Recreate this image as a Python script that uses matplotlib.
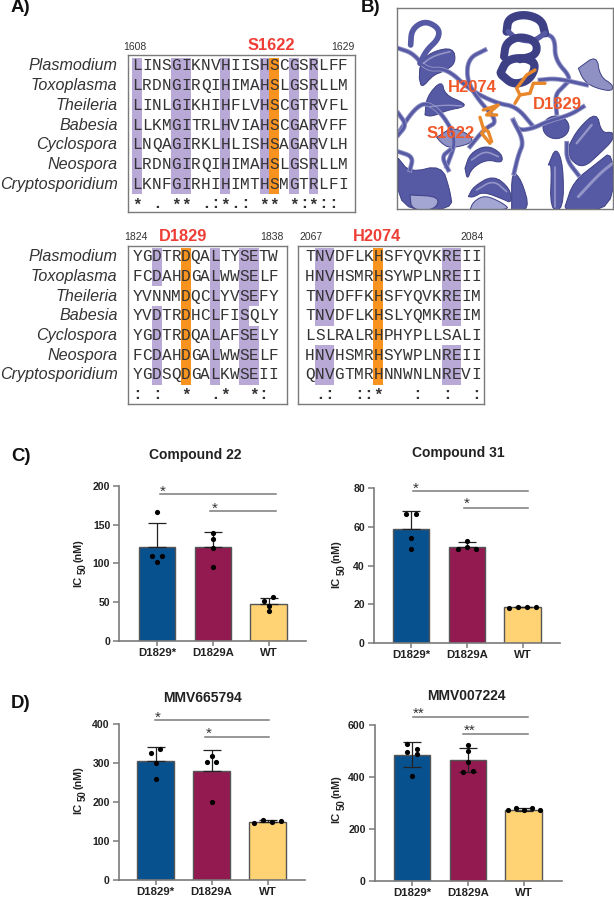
import numpy as np
import matplotlib
matplotlib.use('Agg')
import matplotlib.pyplot as plt
from matplotlib.patches import Rectangle, Polygon, Ellipse

plt.rcParams['font.family'] = ['Liberation Sans', 'DejaVu Sans']

W, H = 614, 899
fig = plt.figure(figsize=(W / 100, H / 100), dpi=100)

GRAY = '#7a7a7a'
TXT = '#222222'
PURPLE = '#b9a9d6'
ORANGE = '#f7931e'
RED = '#ef3e36'


def px_axes(x0, y0, x1, y1):
    # axes from picture pixels, y going down
    return fig.add_axes([x0 / W, 1 - y1 / H, (x1 - x0) / W, (y1 - y0) / H])


def px_text(x, y, s, **kw):
    kw.setdefault('ha', 'center')
    kw.setdefault('va', 'center')
    kw.setdefault('color', TXT)
    fig.text(x / W, 1 - y / H, s, **kw)


# ---- alignments ----
species = ['Plasmodium', 'Toxoplasma', 'Theileria', 'Babesia', 'Cyclospora', 'Neospora', 'Cryptosporidium']

seq_s1622 = ['LINSGIKNVHIISHSCGSRLFF', 'LRDNGIRQIHIMAHSLGSRLLM', 'LINLGIKHIHFLVHSCGTRVFL',
             'LLKMGITRLHVIAHSCGARVFF', 'LNQAGIRKLHLISHSAGARVLH', 'LRDNGIRQIHIMAHSLGSRLLM',
             'LKNFGIRHIHIMTHSMGTRLFI']
sym_s1622 = '* . ** .:*.: ** *:*:: '
shade_s1622 = {0: range(7), 4: range(7), 5: range(7), 9: range(7), 13: range(7), 16: range(7), 18: range(7)}

seq_d1829 = ['YGDTRDQALTYSETW', 'FCDAHDGALWWSELF', 'YVNNMDQCLYVSEFY', 'YVDTRDHCLFISQLY',
             'YGDTRDQALAFSELY', 'FCDAHDGALWWSELF', 'YGDSQDGALKWSEII']
sym_d1829 = ': :  *  .*  *:  '
shade_d1829 = {2: [0, 1, 3, 4, 5, 6], 8: range(7), 11: range(7), 12: [0, 1, 2, 4, 5, 6]}

seq_h2074 = ['TNVDFLKHSFYQVKREII', 'HNVHSMRHSYWPLNREII', 'TNVDFFKHSFYQVKREIM', 'TNVDFLKHSLYQMKREIM',
             'LSLRALRHPHYPLLSALI', 'HNVHSMRHSYWPLNREII', 'QNVGTMRHNNWNLNREVI']
sym_h2074 = ' .:  ::*   :  :  ::'[:18]
shade_h2074 = {1: [0, 1, 2, 3, 5, 6], 2: [0, 1, 2, 3, 5, 6], 14: [0, 1, 2, 3, 5, 6], 15: [0, 1, 2, 3, 5, 6]}


def alignment(box, col0, dcol, row0, seqs, symbols, shade, hot):
    x0, y0, x1, y1 = box
    drow = 19.7
    ax = px_axes(x0, y0, x1, y1)
    ax.set_xlim((x0 - col0) / dcol, (x1 - col0) / dcol)
    ax.set_ylim((y1 - row0) / drow, (y0 - row0) / drow)
    ax.set_xticks([])
    ax.set_yticks([])
    for s in ax.spines.values():
        s.set_color(GRAY)
        s.set_linewidth(1.0)
    for col, rows in shade.items():
        for r in rows:
            # rows touch so neighbours merge into one block
            top = -0.42 if r == 0 else r - 0.5
            ax.add_patch(Rectangle((col - 0.5, top), 1, r + 0.5 - top, fc=PURPLE, ec='none'))
    ax.add_patch(Rectangle((hot - 0.5, -0.42), 1, 6.92, fc=ORANGE, ec='none'))
    for r, seq in enumerate(seqs):
        for c, ch in enumerate(seq):
            ax.text(c, r, ch, family='Liberation Mono', fontsize=11.6, color='#333333',
                    ha='center', va='center')
    for c, ch in enumerate(symbols):
        if ch != ' ':
            ax.text(c, 6.98 if ch != '*' else 7.05, ch, family='Liberation Mono', fontsize=11.6, weight='bold',
                    color='#333333', ha='center', va='center')


alignment((127.5, 54.5, 355, 212), 137, 9.8, 66, seq_s1622, sym_s1622, shade_s1622, 14)
alignment((127.5, 245.7, 286.7, 404), 137.3, 9.71, 256.7, seq_d1829, sym_d1829, shade_d1829, 5)
alignment((298.3, 245.7, 484.3, 404), 310, 9.76, 256.7, seq_h2074, sym_h2074, shade_h2074, 7)

for i, name in enumerate(species):
    px_text(117.5, 66 + i * 19.7, name, ha='right', style='italic', fontsize=11.6, color='#333333')
    px_text(117.5, 256.7 + i * 19.7, name, ha='right', style='italic', fontsize=11.6, color='#333333')

for x, y, s in [(135, 47, '1608'), (342.7, 47, '1629'), (136, 237, '1824'), (272, 237, '1838'),
                (311, 237, '2067'), (472, 237, '2084')]:
    px_text(x, y, s, fontsize=7.5, color='#333333')
for x, y, s in [(271, 46, 'S1622'), (183, 236.7, 'D1829'), (376.7, 236.7, 'H2074')]:
    px_text(x, y, s, fontsize=11.8, weight='bold', color=RED)

for x, y, s in [(11, 8, 'A)'), (361, 8, 'B)'), (11, 456.7, 'C)'), (11, 704, 'D)')]:
    px_text(x, y, s, ha='left', fontsize=13.4, weight='bold', color='#111111')


# ---- panel B: cartoon of the protein ----
RIB = '#5659a3'
DARK = '#3d4085'
LITE = '#a3a5d2'
MID = '#8f91c4'
STICK = '#e8882a'

thin_loops = [
    [(85, 145), (130, 160), (170, 210), (230, 205), (300, 270), (380, 310), (440, 320), (490, 380)],
    [(85, 400), (130, 330), (170, 305), (220, 345), (260, 420), (230, 500)],
    [(345, 150), (295, 175), (290, 240), (325, 300), (385, 365), (345, 385), (300, 440)],
    [(525, 100), (555, 115), (555, 180), (605, 235), (580, 260), (555, 285), (560, 340)],
    [(510, 240), (560, 235), (650, 255)],
    [(430, 360), (445, 392), (490, 385), (530, 365), (600, 345), (640, 320)],
    [(430, 362), (462, 425), (445, 465), (432, 520)],
    [(85, 455), (130, 470), (120, 510)],
    [(590, 430), (590, 480), (625, 525)],
    [(85, 340), (110, 375), (85, 405)],
    [(240, 450), (215, 470), (235, 510)],
]
solid_shapes = [
    # left helix
    ([(148, 235), (150, 190), (185, 155), (250, 142), (258, 190), (220, 215), (190, 225), (155, 265)], RIB),
    ([(165, 345), (170, 290), (215, 240), (225, 285), (285, 310), (280, 322), (235, 330), (185, 350)], RIB),
    ([(200, 412), (250, 380), (310, 412), (300, 432), (240, 445), (215, 430)], MID),
    # lower left block
    ([(85, 475), (120, 518), (215, 495), (240, 570), (248, 630), (85, 630)], RIB),
    ([(120, 585), (210, 590), (195, 630), (125, 630)], LITE),
    # lower centre helix
    ([(285, 505), (300, 460), (350, 435), (395, 460), (398, 490), (350, 478), (305, 505), (292, 540)], RIB),
    ([(295, 590), (310, 560), (370, 525), (420, 565), (425, 610), (400, 598), (340, 575), (310, 592)], RIB),
    ([(300, 630), (310, 605), (345, 585), (400, 610), (420, 630)], LITE),
    # strands
    ([(425, 630), (425, 510), (455, 540), (480, 630)], RIB),
    ([(535, 495), (558, 440), (580, 495), (580, 630), (540, 630), (545, 495)], RIB),
    # right helix
    ([(595, 440), (625, 385), (680, 335), (695, 400), (730, 395), (730, 420), (690, 460), (640, 505), (600, 480)], RIB),
    ([(585, 620), (610, 545), (680, 490), (730, 450), (730, 630), (590, 630)], RIB),
    ([(625, 205), (680, 165), (690, 230), (730, 255), (725, 275), (670, 262), (640, 240)], MID),
]
coil_strokes = [
    # left helix, top coil
    ([(122, 135), (125, 88), (165, 62), (208, 85), (205, 118), (170, 150), (150, 190)], 17, RIB),
    # central helix, three turns
    ([(410, 95), (415, 55), (465, 42), (515, 60), (525, 100)], 25, DARK),
    ([(525, 100), (490, 125), (440, 118), (415, 95)], 16, RIB),
    ([(402, 170), (408, 128), (450, 108), (500, 125), (500, 165), (450, 178)], 24, DARK),
    ([(392, 218), (410, 180), (460, 172), (500, 190), (480, 240), (430, 255), (395, 225)], 25, DARK),
]
highlights = [
    ([(160, 190), (190, 168), (240, 155)], 5),
    ([(180, 320), (230, 315), (275, 318)], 4),
    ([(305, 480), (345, 452), (385, 470)], 5),
    ([(320, 570), (370, 540), (410, 575)], 5),
    ([(620, 430), (665, 375)], 7),
    ([(625, 590), (690, 520), (728, 490)], 9),
    ([(555, 500), (555, 620)], 5),
]
sticks = [
    [(435, 310), (450, 285), (480, 280), (490, 250), (525, 250)],
    [(450, 285), (440, 265), (470, 225), (495, 210)],
    [(340, 330), (385, 315), (350, 345), (380, 345)],
    [(330, 352), (340, 385), (355, 395), (365, 425)],
    [(345, 385), (335, 400), (360, 430)],
]


def smooth(pts, n=3, closed=False):
    # Chaikin corner cutting, keeps the ribbons round
    p = np.array(pts, float)
    if closed:
        p = np.vstack([p, p[0]])
    for _ in range(n):
        q = 0.75 * p[:-1] + 0.25 * p[1:]
        r = 0.25 * p[:-1] + 0.75 * p[1:]
        p = np.vstack([p[0], np.column_stack([q, r]).reshape(-1, 2), p[-1]])
    return p


axb = px_axes(397.3, 8.3, 613, 209.3)
axb.set_xlim(82, 729)
axb.set_ylim(628, 25)
axb.set_xticks([])
axb.set_yticks([])
for s in axb.spines.values():
    s.set_color(GRAY)
    s.set_linewidth(1.0)
    s.set_zorder(10)
for pts in thin_loops:
    p = smooth(pts)
    axb.plot(p[:, 0], p[:, 1], color=MID, lw=3.4)
    axb.plot(p[:, 0], p[:, 1], color=RIB, lw=2.0)
for pts, col in solid_shapes:
    axb.add_patch(Polygon(smooth(pts, 2, closed=True), closed=True, fc=col, ec=DARK, lw=0.7))
axb.add_patch(Ellipse((558, 382), 78, 68, fc=RIB, ec=DARK, lw=0.7))
for pts, lw, col in coil_strokes:
    p = smooth(pts)
    axb.plot(p[:, 0], p[:, 1], color=col, lw=lw / 3 * 0.72, solid_capstyle='round')
for pts, lw in highlights:
    p = smooth(pts)
    axb.plot(p[:, 0], p[:, 1], color=LITE, lw=lw / 3 * 0.72, alpha=0.8, solid_capstyle='round')
for pts in sticks:
    p = np.array(pts)
    axb.plot(p[:, 0], p[:, 1], color=STICK, lw=2.4, solid_capstyle='round', solid_joinstyle='round')
for x, y, s in [(307, 264, 'H2074'), (563, 315, 'D1829'), (242, 400, 'S1622')]:
    axb.text(x, y, s, fontsize=12, weight='bold', color='#f0582a', ha='center', va='center')


# ---- IC50 bars ----
strains = ['D1829*', 'D1829A', 'WT']
bar_colors = ['#08518f', '#931a50', '#ffd373']

c22_means = [121, 120.5, 47.5]
c22_err_low = [0, 0, 0]
c22_err_up = [31, 19.5, 8]
c22_points = [[166.8, 110, 109.5, 101.3], [138.8, 131, 119.4, 94.8], [56, 51.7, 44.8, 38.8]]
c22_offs = [[0, -0.084, 0.084, 0], [0, 0, 0, 0], [0.084, -0.084, 0, 0]]

c31_means = [59, 49.7, 18.5]
c31_err_low = [0, 0, 0]
c31_err_up = [9.2, 2.2, 0.3]
c31_points = [[66.5, 66.5, 54.1, 48.5], [52.6, 49.7, 48.3, 48.3], [18.2, 18.7, 18.5, 18.5]]
c31_offs = [[-0.084, 0.084, 0, 0], [0, 0, -0.16, 0.16], [-0.245, -0.084, 0.084, 0.245]]

m665_means = [304.7, 279.8, 149.5]
m665_err_low = [0, 0, 0]
m665_err_up = [36, 55, 3]
m665_points = [[336.5, 326, 301, 258.4], [317.6, 303, 302, 199], [146.8, 152.8, 147.6, 152]]
m665_offs = [[0.084, -0.08, 0, 0], [0, -0.08, 0.084, 0], [-0.245, -0.084, 0.084, 0.245]]

m007_means = [484, 464.8, 274]
m007_err_low = [46, 47, 5]
m007_err_up = [50, 47, 5]
m007_points = [[526.6, 510, 497, 490.6, 403], [525, 499.6, 457, 425, 418], [274, 280.7, 274, 279.4, 271.7]]
m007_offs = [[-0.084, 0.084, -0.084, 0.084, 0], [0, 0, 0, 0.084, -0.084], [-0.29, -0.14, 0, 0.15, 0.29]]


def bar_panel(spine_x, y_zero, y_top, x_end, first_c, ymax, yticks, means, err_low, err_up, points, offs,
              sig1, sig2, star, star1, star2):
    dc = 55.9
    ax = px_axes(spine_x, y_top, x_end, y_zero)
    ax.patch.set_alpha(0)
    ax.set_xlim((spine_x - first_c) / dc, (x_end - first_c) / dc)
    ax.set_ylim(0, ymax)
    ax.bar(range(3), means, width=0.657, color=bar_colors, edgecolor='#555555', linewidth=1.0, zorder=2)
    ax.errorbar(range(3), means, yerr=[err_low, err_up], fmt='none', ecolor='#222222', elinewidth=0.9,
                capsize=6.5, capthick=0.9, zorder=3)
    for i in range(3):
        ax.scatter(np.array(offs[i]) + i, points[i], s=14, color='black', zorder=4, clip_on=False, linewidths=0)
    for (xa, xb, yy) in [sig1, sig2]:
        ax.plot([xa, xb], [yy, yy], color=GRAY, lw=1.1, clip_on=False, zorder=1)
    for (xs, ys) in [star1, star2]:
        ax.text(xs, ys, star, fontsize=11, color='#333333', ha='center', va='center', clip_on=False)
    ax.set_xticks(range(3))
    ax.set_xticklabels(strains, fontsize=8.2, weight='bold', color=TXT)
    ax.set_yticks(yticks)
    ax.set_yticklabels([str(t) for t in yticks], fontsize=7.6, weight='bold', color=TXT)
    ax.tick_params(axis='y', color=GRAY, width=1.1, length=4, pad=2.5)
    ax.tick_params(axis='x', color=GRAY, width=1.1, length=3.5, pad=1.5)
    for side in ['top', 'right']:
        ax.spines[side].set_visible(False)
    for side in ['left', 'bottom']:
        ax.spines[side].set_color(GRAY)
        ax.spines[side].set_linewidth(1.2)
    return ax


bar_panel(119.3, 640.7, 486, 305.7, 157, 200, [0, 50, 100, 150, 200], c22_means, c22_err_low, c22_err_up,
          c22_points, c22_offs, (0.054, 2.12, 189.2), (0.955, 2.12, 167.7), '*', (0.1, 192), (1.04, 171))
bar_panel(374, 643.3, 487.7, 560, 411, 80, [0, 20, 40, 60, 80], c31_means, c31_err_low, c31_err_up,
          c31_points, c31_offs, (0.04, 2.1, 78.3), (0.94, 2.1, 69.5), '*', (0.09, 79.5), (1.0, 71.5))
bar_panel(119, 879.7, 724.3, 305, 155.7, 400, [0, 100, 200, 300, 400], m665_means, m665_err_low, m665_err_up,
          m665_points, m665_offs, (-0.02, 2.03, 410), (0.88, 2.03, 367.4), '*', (0.03, 418), (0.95, 376))
bar_panel(374.7, 880.7, 725.3, 562, 412, 600, [0, 200, 400, 600], m007_means, m007_err_low, m007_err_up,
          m007_points, m007_offs, (0.02, 2.07, 632), (0.92, 2.07, 566.5), '**', (0.125, 646), (1.04, 580))

# y label in three pieces, the subscript is nearly full size in the reference
for x, y in [(78, 563), (336.7, 564), (78, 790), (336.7, 799)]:
    px_text(x, y + 23.7, 'IC', rotation=90, va='bottom', fontsize=8, weight='bold')
    px_text(x + 5, y + 11, '50', rotation=90, va='bottom', fontsize=6.9, weight='bold')
    px_text(x, y - 1, '(nM)', rotation=90, va='bottom', fontsize=7.7, weight='bold')
for x, y, s in [(195, 455, 'Compound 22'), (458, 453, 'Compound 31'), (202, 697.7, 'MMV665794'),
                (466, 695.7, 'MMV007224')]:
    px_text(x, y, s, fontsize=10, weight='bold')

fig.savefig('out.png', dpi=100)
